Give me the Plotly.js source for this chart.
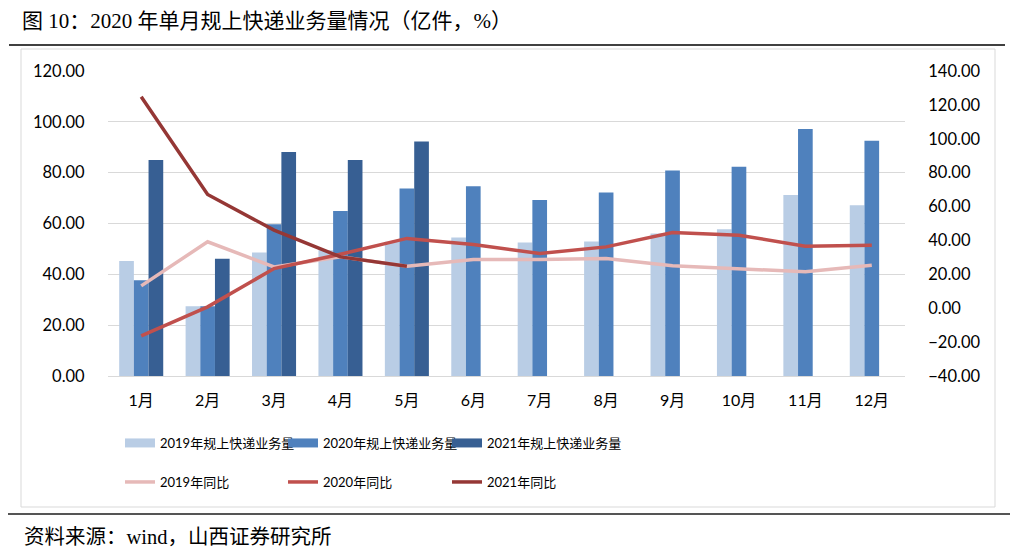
<!DOCTYPE html>
<html>
<head>
<meta charset="utf-8">
<script src="https://cdn.plot.ly/plotly-3.0.1.min.js"></script>
<style>html,body{margin:0;padding:0;background:#fff;}#chart{width:1012px;height:558px;}</style>
</head>
<body>
<div id="chart"></div>
<script>
const months = ['1月','2月','3月','4月','5月','6月','7月','8月','9月','10月','11月','12月'];
const vol2019 = [45.2, 27.4, 48.6, 49.5, 52.8, 54.5, 52.5, 52.9, 56.1, 57.7, 71.2, 67.2];
const vol2020 = [37.7, 27.4, 59.7, 64.9, 73.8, 74.7, 69.2, 72.2, 80.9, 82.3, 97.2, 92.6];
const vol2021 = [85.0, 46.1, 88.1, 85.0, 92.3, null, null, null, null, null, null, null];
const yoy2019 = [13.2, 39.2, 24.4, 30.3, 24.8, 28.7, 28.7, 29.3, 25.0, 23.0, 21.5, 25.4];
const yoy2020 = [-16.3, 0.8, 23.4, 31.9, 41.2, 37.6, 32.3, 36.2, 44.7, 43.1, 36.6, 37.2];
const yoy2021 = [124.8, 67.1, 46.1, 30.3, 24.8, null, null, null, null, null, null, null];
const barNames = ['2019年规上快递业务量','2020年规上快递业务量','2021年规上快递业务量'];
const lineNames = ['2019年同比','2020年同比','2021年同比'];

const barColors = ['#B9CDE5','#4F81BD','#375F93'];
const lineColors = ['#E6B9B8','#C0504D','#953735'];
const FONT = 'Lato, "Noto Sans CJK SC", sans-serif';

const W = 1012, H = 558, L = 108, R = 905, T = 71, B = 376;
const px = x => (x - L) / (R - L);
const py = y => (B - y) / (B - T);

const legendCols = [120, 283, 447];
const legendRows = [443, 482];
const legendIds = ['legend', 'legend2', 'legend3', 'legend4', 'legend5', 'legend6'];

const traces = [];
[vol2019, vol2020, vol2021].forEach((v, i) => {
  traces.push({type:'bar', x: months, y: v, name: barNames[i], marker:{color: barColors[i]}, showlegend:false, hoverinfo:'y'});
});
// legend proxies for bars (rectangular swatch)
barNames.forEach((n, i) => {
  traces.push({type:'scatter', mode:'lines', x:[null], y:[null], name:n, line:{color:barColors[i], width:9}, legend: legendIds[i], hoverinfo:'skip'});
});
[yoy2019, yoy2020, yoy2021].forEach((v, i) => {
  traces.push({type:'scatter', mode:'lines', x: months, y: v, yaxis:'y2', name: lineNames[i], line:{color: lineColors[i], width:3.5}, legend: legendIds[3 + i], connectgaps:false});
});

const layout = {
  width: W, height: H,
  margin: {l: L, r: W - R, t: T, b: H - B, pad: 0},
  paper_bgcolor: '#fff', plot_bgcolor: '#fff',
  font: {family: FONT, size: 16, color: '#000'},
  barmode: 'group', bargap: 0.337, bargroupgap: 0,
  title: {text: '图 10：2020 年单月规上快递业务量情况（亿件，%）', x: 22 / W, xanchor: 'left', xref: 'container',
          y: 1 - 21 / H, yref: 'container', yanchor: 'middle',
          font: {family: '"Liberation Serif", "Noto Sans CJK SC", serif', size: 21, color: '#000'}},
  xaxis: {type: 'category', showgrid: false, showline: true, linecolor: '#D9D9D9', linewidth: 1, ticks: 'outside', ticklen: 10,
          tickcolor: 'rgba(0,0,0,0)', tickfont: {family: FONT, size: 16}, automargin: false, fixedrange: true},
  yaxis: {range: [0, 120], dtick: 20, tickformat: '.2f', showgrid: true, gridcolor: '#D9D9D9', gridwidth: 1,
          zeroline: false, showline: false, ticks: 'outside', ticklen: 19, tickcolor: 'rgba(0,0,0,0)',
          tickfont: {family: FONT, size: 16.5}, automargin: false},
  yaxis2: {range: [-40, 140], dtick: 20, tickformat: '.2f', overlaying: 'y', side: 'right', showgrid: false,
           zeroline: false, showline: false, ticks: 'outside', ticklen: 19, tickcolor: 'rgba(0,0,0,0)',
           tickfont: {family: FONT, size: 16.5}, automargin: false},
  shapes: [
    {type: 'line', xref: 'paper', yref: 'paper', x0: px(9), x1: px(1005), y0: py(45), y1: py(45), line: {color: '#000', width: 1.5}},
    {type: 'rect', xref: 'paper', yref: 'paper', x0: px(21), x1: px(995), y0: py(49), y1: py(507), line: {color: '#D9D9D9', width: 1}},
    {type: 'line', xref: 'paper', yref: 'paper', x0: px(8), x1: px(1010), y0: py(514), y1: py(514), line: {color: '#555', width: 2}}
  ],
  annotations: [
    {text: '资料来源：wind，山西证券研究所', xref: 'paper', yref: 'paper', x: px(22), y: py(537), xanchor: 'left', yanchor: 'middle',
     showarrow: false, font: {family: '"Liberation Serif", "Noto Sans CJK SC", serif', size: 20.5, color: '#000'}}
  ]
};
legendIds.forEach((id, k) => {
  layout[id] = {orientation: 'h', x: px(legendCols[k % 3]), y: py(legendRows[Math.floor(k / 3)]), yanchor: 'middle', xanchor: 'left',
                font: {family: FONT, size: 13}, bgcolor: 'rgba(0,0,0,0)', itemclick: false};
});

Plotly.newPlot('chart', traces, layout, {displayModeBar: false, staticPlot: true});
</script>
</body>
</html>
